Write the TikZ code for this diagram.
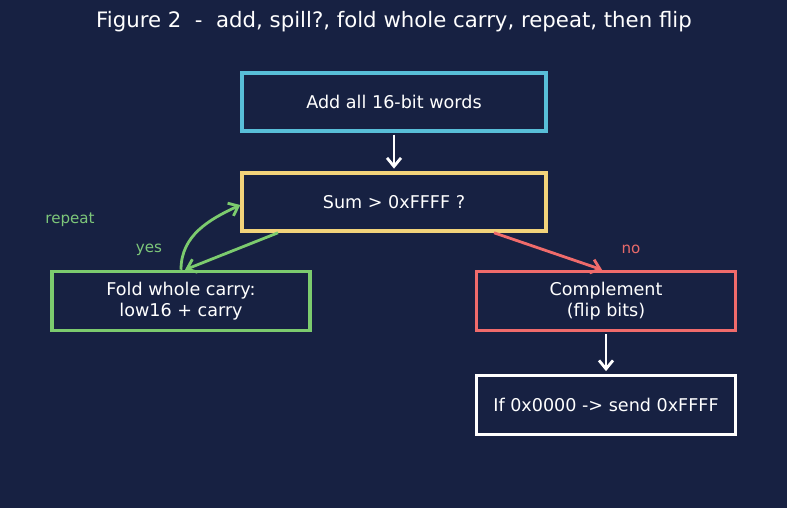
\documentclass[tikz,border=0pt]{standalone}
\usepackage{fontspec}
\setmainfont{DejaVu Sans}
\usetikzlibrary{arrows.meta}
\definecolor{bgnavy}{HTML}{172142}
\definecolor{bxblue}{HTML}{58BED8}
\definecolor{bxyellow}{HTML}{F2D37A}
\definecolor{bxgreen}{HTML}{7CCB6E}
\definecolor{bxred}{HTML}{F06B6B}
\definecolor{lblgreen}{HTML}{7DC77A}
\definecolor{lblred}{HTML}{E86A6A}
\begin{document}
\begin{tikzpicture}
        \tikzstyle{box} = [draw, line width=2pt, text=white, align=center, minimum width=6.08cm, minimum height=1.16cm, font=\fontsize{10}{12}\selectfont]
        \tikzstyle{lbl} = [font=\fontsize{8.6}{10}\selectfont]
        \tikzstyle{blk} = [draw, line width=1.6pt, >={Straight Barb[length=1.7mm, width=2.8mm]}]
        
        \fill[bgnavy] (0, 0) rectangle (15.74, -10.16);
        \useasboundingbox (0, 0) rectangle (15.74, -10.16);
        
        \node[text=white, font=\fontsize{12.1}{14}\selectfont] (title) at (7.88, -0.44) {Figure 2~~-~~add, spill?, fold whole carry, repeat, then flip};
        
        \node[box, draw=bxblue] (add) at (7.88, -2.04) {Add all 16-bit words};
        \node[box, draw=bxyellow] (sum) at (7.88, -4.04) {Sum > 0xFFFF ?};
        \node[box, draw=bxgreen, minimum width=5.16cm, minimum height=1.18cm] (fold) at (3.62, -6.02) {Fold whole carry:\\low16 + carry};
        \node[box, draw=bxred, minimum width=5.18cm, minimum height=1.18cm] (complement) at (12.12, -6.02) {Complement\\(flip bits)};
        \node[box, draw=white, minimum width=5.18cm, minimum height=1.18cm] (send) at (12.12, -8.10) {If 0x0000 -> send 0xFFFF};
        
        \node[lbl, text=lblgreen] (repeat) at (1.40, -4.40) {repeat};
        \node[lbl, text=lblgreen] (yes) at (2.98, -5.00) {yes};
        \node[lbl, text=lblred] (no) at (12.62, -4.98) {no};
        
        \path[blk, white, ->, shorten <=1pt, shorten >=1.5pt] (add) to (sum);
        \path[blk, bxgreen, ->] ([xshift=-2.32cm]sum.south) to ([xshift=0.08cm]fold.north);
        \path[blk, bxgreen, ->] (fold.north) to[out=90, in=205] ([yshift=-0.06cm]sum.west);
        \path[blk, bxred, ->] ([xshift=2.0cm]sum.south) to ([xshift=-0.08cm]complement.north);
        \path[blk, white, ->, shorten <=1pt, shorten >=1.5pt] (complement) to (send);
    \end{tikzpicture}
\end{document}
